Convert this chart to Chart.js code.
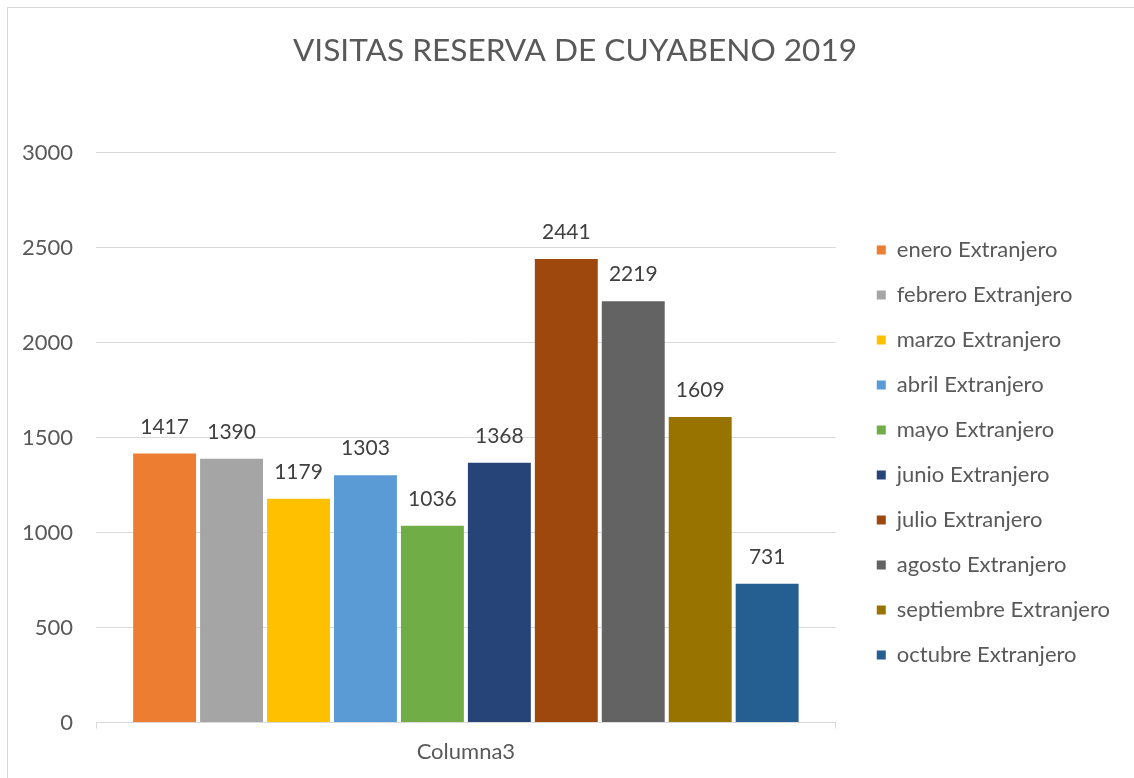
<!DOCTYPE html>
<html>
<head>
<meta charset="utf-8">
<script src="https://cdn.jsdelivr.net/npm/chart.js@4/dist/chart.umd.min.js"></script>
<style>
  body { margin: 0; background: #fff; }
  #wrap { position: absolute; left: 0; top: 0; width: 1134px; height: 778px; }
  #frame { position: absolute; left: 7px; top: 7px; width: 1140px; height: 780px; border: 1px solid #d9d9d9; box-sizing: border-box; }
</style>
</head>
<body>
<div id="wrap">
  <div id="frame"></div>
  <canvas id="chart" width="1134" height="778"></canvas>
</div>
<script>
const categories = ['Columna3'];
const seriesNames = ['enero Extranjero', 'febrero Extranjero', 'marzo Extranjero', 'abril Extranjero', 'mayo Extranjero',
  'junio Extranjero', 'julio Extranjero', 'agosto Extranjero', 'septiembre Extranjero', 'octubre Extranjero'];
const seriesValues = [1417, 1390, 1179, 1303, 1036, 1368, 2441, 2219, 1609, 731];
const seriesColors = ['#ED7D31', '#A5A5A5', '#FFC000', '#5B9BD5', '#70AD47', '#264478', '#9E480E', '#636363', '#997300', '#255E91'];
const yTicks = [0, 500, 1000, 1500, 2000, 2500, 3000];

const textColor = '#595959';
const fontFamily = 'Lato, "Open Sans", sans-serif';

// etiquetas de valor encima de cada barra
const valueLabels = {
  id: 'valueLabels',
  afterDatasetsDraw(chart) {
    const ctx = chart.ctx;
    ctx.save();
    ctx.font = '21px ' + fontFamily;
    ctx.fillStyle = '#404040';
    ctx.textAlign = 'center';
    ctx.textBaseline = 'bottom';
    chart.data.datasets.forEach((ds, i) => {
      const meta = chart.getDatasetMeta(i);
      meta.data.forEach((bar, j) => {
        ctx.fillText(ds.data[j], bar.x, bar.y - 16);
      });
    });
    ctx.restore();
  }
};

// mover leyenda y titulo un poco (como en Excel)
const layoutShift = {
  id: 'layoutShift',
  afterLayout(chart) {
    const lg = chart.legend;
    if (lg) {
      lg.left += 18; lg.right += 18;
      lg.top += 55; lg.bottom += 55;
    }
    const tb = chart.titleBlock;
    if (tb) { tb.left += 14; tb.right += 14; }
  }
};

const datasets = seriesNames.map((name, i) => ({
  label: name,
  data: [seriesValues[i]],
  backgroundColor: seriesColors[i],
  barPercentage: 0.94,
  categoryPercentage: 0.905
}));

new Chart(document.getElementById('chart'), {
  type: 'bar',
  data: { labels: categories, datasets: datasets },
  options: {
    responsive: false,
    animation: false,
    layout: { padding: { left: 20, right: 32, top: 20, bottom: 3 } },
    plugins: {
      title: {
        display: true,
        text: 'VISITAS RESERVA DE CUYABENO 2019',
        color: textColor,
        font: { family: fontFamily, size: 31.6, weight: 'normal' },
        padding: { top: 12, bottom: 83 }
      },
      legend: {
        position: 'right',
        labels: {
          color: textColor,
          font: { family: fontFamily, size: 22 },
          boxWidth: 9,
          boxHeight: 9,
          padding: 23
        }
      },
      tooltip: { enabled: false }
    },
    scales: {
      x: {
        grid: { drawOnChartArea: false, color: '#d9d9d9', tickLength: 6 },
        border: { color: '#d9d9d9' },
        ticks: { color: textColor, font: { family: fontFamily, size: 22 }, padding: 10 }
      },
      y: {
        min: 0,
        max: 3000,
        afterBuildTicks(axis) { axis.ticks = yTicks.map(v => ({ value: v })); },
        afterFit(axis) { axis.width = 76; },
        grid: { color: '#d9d9d9', drawTicks: false },
        border: { display: false },
        ticks: {
          color: textColor,
          font: { family: fontFamily, size: 22 },
          padding: 23,
          callback: v => String(v)
        }
      }
    }
  },
  plugins: [valueLabels, layoutShift]
});
</script>
</body>
</html>
